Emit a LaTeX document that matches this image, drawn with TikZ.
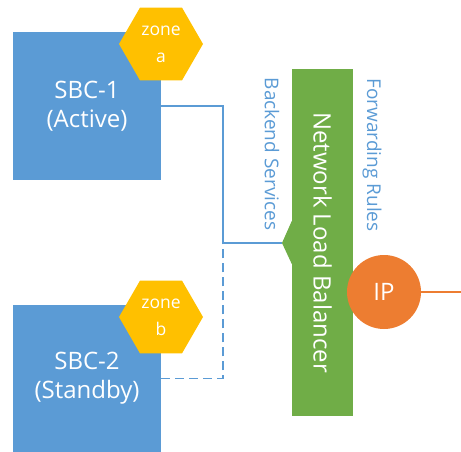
\documentclass[tikz,border=0pt]{standalone}
\usepackage{fontspec}
\setmainfont{Open Sans}
\usetikzlibrary{shapes.geometric}
\definecolor{sbcblue}{HTML}{5B9BD5}
\definecolor{nlbgreen}{HTML}{70AD47}
\definecolor{iporange}{HTML}{ED7D31}
\definecolor{zonegold}{HTML}{FFC000}
\tikzset{
  sbcbox/.style={fill=sbcblue, draw=none, text=white, align=center, font=\fontsize{24}{29}\selectfont, inner sep=0},
  zonehex/.style={regular polygon, regular polygon sides=6, minimum size=84pt, inner sep=0, fill=zonegold, text=white, align=center, font=\fontsize{17.5}{27}\selectfont},
  link/.style={draw=sbcblue, line width=1.3pt},
  vlabel/.style={rotate=-90, text=sbcblue, font=\fontsize{19}{22}\selectfont, inner sep=0},
}
\begin{document}
\begin{tikzpicture}[x=1pt,y=-1pt]
\useasboundingbox (0,0) rectangle (461,452);
% SBC boxes
\node[sbcbox, minimum width=148pt, minimum height=148pt] (sbc1) at (87,106) {SBC-1\\(Active)};
\node[sbcbox, minimum width=148pt, minimum height=147pt] (sbc2) at (87,378.5) {SBC-2\\(Standby)};
% zone hexagons
\node[zonehex] (za) at (161,44) {zone\\a};
\node[zonehex] (zb) at (161,317) {zone\\b};
% load balancer
\node[fill=nlbgreen, minimum width=61pt, minimum height=347pt, inner sep=0] (nlb) at (322.5,242.5) {};
\node[rotate=-90, text=white, font=\fontsize{24}{26}\selectfont, inner sep=0] (nlbtext) at (nlb.center) {Network Load Balancer};
\coordinate (tip) at (282,243);
\fill[nlbgreen] (nlb.west |- 0,221) -- (tip) -- (nlb.west |- 0,264) -- cycle;
% labels
\node[vlabel] (backend) at (272,154) {Backend Services};
\node[vlabel] (fwd) at (372,155) {Forwarding Rules};
% IP
\node[circle, fill=iporange, minimum size=74pt, inner sep=0, text=white, font=\fontsize{24}{26}\selectfont] (ip) at (384,292) {IP};
\coordinate (out) at (461,292);
\draw[draw=iporange, line width=1.5pt] (ip.east) -- (out);
% connectors
\coordinate (j) at (223,243);
\draw[link] (sbc1.east) -| (j) -- (tip);
\draw[link, dash pattern=on 9pt off 5pt] (sbc2.east) -| (j);
\end{tikzpicture}
\end{document}
